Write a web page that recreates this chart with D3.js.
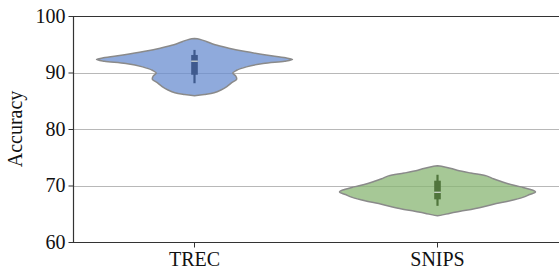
<!DOCTYPE html>
<html>
<head>
<meta charset="utf-8">
<script src="https://cdn.jsdelivr.net/npm/d3@7"></script>
<style>
  body { margin: 0; background: #fff; }
  svg { display: block; font-family: "Liberation Serif", "Times New Roman", serif; }
</style>
</head>
<body>
<div id="chart"></div>
<script>
// categories on the x axis
var categories = ["TREC", "SNIPS"];
var yTicks = [60, 70, 80, 90, 100];
var gridTicks = [70, 80, 90];

// density outline: [accuracy, relative density]
var trecDensity = [
    [96.0, 0], [95.9, 0.05], [95.5, 0.12], [94.9, 0.21], [94.3, 0.35], [93.7, 0.52],
    [93.1, 0.73], [92.6, 0.93], [92.3, 1.0], [92.0, 0.92], [91.6, 0.70], [91.0, 0.53],
    [90.4, 0.43], [89.9, 0.39], [89.4, 0.42], [88.8, 0.43], [88.2, 0.38], [87.5, 0.33],
    [86.9, 0.27], [86.4, 0.20], [86.1, 0.10], [85.9, 0]
];
var snipsDensity = [
    [73.5, 0], [73.4, 0.04], [73.0, 0.14], [72.7, 0.20], [72.2, 0.34], [71.7, 0.50],
    [71.2, 0.57], [70.7, 0.65], [70.3, 0.72], [69.8, 0.84], [69.3, 0.95], [68.85, 1.0],
    [68.4, 0.94], [67.9, 0.87], [67.3, 0.74], [66.8, 0.60], [66.2, 0.46], [65.6, 0.29],
    [65.1, 0.13], [64.8, 0.05], [64.65, 0]
];

// inner box: [whisker low, q1, median, q3, whisker high]
var trecBox = [88.1, 89.6, 92.0, 93.1, 94.0];
var snipsBox = [66.4, 67.55, 68.8, 70.85, 71.9];

var fills = ["#6a8ed0", "#88b673"];
var boxColors = ["#3f5a8e", "#50753c"];

var W = 559, H = 271;
var margin = { left: 73, right: 0, top: 16, bottom: 29 };

var svg = d3.select("#chart").append("svg")
    .attr("width", W)
    .attr("height", H);

var x = d3.scaleBand()
    .domain(categories)
    .range([margin.left, W - margin.right]);

var y = d3.scaleLinear()
    .domain([60, 100])
    .range([H - margin.bottom, margin.top]);

// half width of the violin at density 1
var w = d3.scaleLinear().domain([0, 1]).range([0, 98]);

// grid lines
svg.append("g").selectAll("line")
    .data(gridTicks)
  .enter().append("line")
    .attr("x1", margin.left)
    .attr("x2", W - margin.right)
    .attr("y1", function(d) { return Math.round(y(d)) + 0.5; })
    .attr("y2", function(d) { return Math.round(y(d)) + 0.5; })
    .attr("stroke", "#b8b8b8")
    .attr("stroke-width", 1);

var series = [
    { name: "TREC", density: trecDensity, box: trecBox },
    { name: "SNIPS", density: snipsDensity, box: snipsBox }
];

var area = d3.area()
    .curve(d3.curveCatmullRom)
    .y(function(d) { return y(d[0]); });

series.forEach(function(s, i) {
    var cx = x(s.name) + x.bandwidth() / 2;
    var g = svg.append("g");

    area.x0(function(d) { return cx - w(d[1]); })
        .x1(function(d) { return cx + w(d[1]); });

    g.append("path")
        .datum(s.density)
        .attr("d", area)
        .attr("fill", fills[i])
        .attr("fill-opacity", 0.75)
        .attr("stroke", "#8a8a8a")
        .attr("stroke-width", 1.5);

    // whisker
    g.append("line")
        .attr("x1", cx).attr("x2", cx)
        .attr("y1", y(s.box[0])).attr("y2", y(s.box[4]))
        .attr("stroke", boxColors[i])
        .attr("stroke-width", 2.2);
    // box
    g.append("rect")
        .attr("x", cx - 3.3)
        .attr("width", 6.6)
        .attr("y", y(s.box[3]))
        .attr("height", y(s.box[1]) - y(s.box[3]))
        .attr("fill", boxColors[i]);
    // median
    g.append("line")
        .attr("x1", cx - 3.3).attr("x2", cx + 3.3)
        .attr("y1", y(s.box[2])).attr("y2", y(s.box[2]))
        .attr("stroke", "#d8e0d8")
        .attr("stroke-width", 1.2);
});

// spines
svg.append("line")
    .attr("x1", margin.left).attr("x2", W)
    .attr("y1", margin.top + 0.5).attr("y2", margin.top + 0.5)
    .attr("stroke", "#333").attr("stroke-width", 1.2);

var yAxis = svg.append("g")
    .attr("transform", "translate(" + (margin.left + 0.5) + ",0)")
    .call(d3.axisLeft(y).tickValues(yTicks).tickSize(5).tickPadding(3).tickFormat(d3.format("d")));

var xAxis = svg.append("g")
    .attr("transform", "translate(0," + (H - margin.bottom + 0.5) + ")")
    .call(d3.axisBottom(x).tickSize(5).tickPadding(4));

[yAxis, xAxis].forEach(function(a) {
    a.select(".domain").attr("stroke", "#333").attr("stroke-width", 1.2);
    a.selectAll(".tick line").attr("stroke", "#333").attr("stroke-width", 1);
    a.selectAll(".tick text")
        .attr("fill", "#111")
        .style("font-family", "'Liberation Serif', 'Times New Roman', serif")
        .style("font-size", "20px");
});
yAxis.select(".domain").attr("d", "M0," + margin.top + "V" + (H - margin.bottom));
xAxis.select(".domain").attr("d", "M" + margin.left + ",0H" + W);

svg.append("text")
    .attr("transform", "translate(22," + ((margin.top + H - margin.bottom) / 2) + ") rotate(-90)")
    .attr("text-anchor", "middle")
    .attr("fill", "#111")
    .style("font-size", "20px")
    .text("Accuracy");
</script>
</body>
</html>
